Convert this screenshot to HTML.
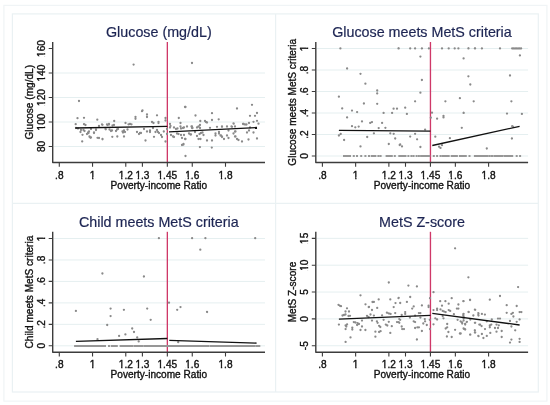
<!DOCTYPE html>
<html><head><meta charset="utf-8"><title>Poverty-income ratio RD plots</title>
<style>
html,body{margin:0;padding:0;background:#fff;}
body{width:550px;height:405px;overflow:hidden;}
svg{display:block;will-change:transform;}
text{font-family:"Liberation Sans", sans-serif;}
.l{font-size:10.1px;fill:#111111;stroke:#111111;stroke-width:0.35px;}
.t{font-size:14.3px;fill:#1d2553;stroke:#1d2553;stroke-width:0.2px;}
</style></head><body>
<svg width="550" height="405" viewBox="0 0 550 405">
<rect width="550" height="405" fill="#fff"/>
<rect x="3.9" y="5.4" width="543" height="395.7" fill="none" stroke="#f0f4f6" stroke-width="1.2"/>
<rect x="12.4" y="13.9" width="525.9" height="378.1" fill="none" stroke="#eaf1f3" stroke-width="1.2"/>
<path d="M275.6 13.9V392M12.4 203.3H538.3" stroke="#eaf1f3" stroke-width="1.2"/>
<line x1="53.7" y1="146.5" x2="265" y2="146.5" stroke="#e5eff0" stroke-width="1"/>
<line x1="53.7" y1="122" x2="265" y2="122" stroke="#e5eff0" stroke-width="1"/>
<line x1="53.7" y1="97.5" x2="265" y2="97.5" stroke="#e5eff0" stroke-width="1"/>
<line x1="53.7" y1="73" x2="265" y2="73" stroke="#e5eff0" stroke-width="1"/>
<line x1="167.35" y1="42" x2="167.35" y2="162.5" stroke="#cf3868" stroke-width="1.35"/>
<path d="M96.15 119.7a1.15 1.15 0 1 0 2.3 0a1.15 1.15 0 1 0 -2.3 0zM113.05 121a1.15 1.15 0 1 0 2.3 0a1.15 1.15 0 1 0 -2.3 0zM134.35 117a1.15 1.15 0 1 0 2.3 0a1.15 1.15 0 1 0 -2.3 0zM134.35 118.8a1.15 1.15 0 1 0 2.3 0a1.15 1.15 0 1 0 -2.3 0zM141.35 110.5a1.15 1.15 0 1 0 2.3 0a1.15 1.15 0 1 0 -2.3 0zM124.35 123a1.15 1.15 0 1 0 2.3 0a1.15 1.15 0 1 0 -2.3 0zM101.35 124.8a1.15 1.15 0 1 0 2.3 0a1.15 1.15 0 1 0 -2.3 0zM97.85 126a1.15 1.15 0 1 0 2.3 0a1.15 1.15 0 1 0 -2.3 0zM106.35 125a1.15 1.15 0 1 0 2.3 0a1.15 1.15 0 1 0 -2.3 0zM107.85 124.5a1.15 1.15 0 1 0 2.3 0a1.15 1.15 0 1 0 -2.3 0zM111.35 125.5a1.15 1.15 0 1 0 2.3 0a1.15 1.15 0 1 0 -2.3 0zM112.85 125a1.15 1.15 0 1 0 2.3 0a1.15 1.15 0 1 0 -2.3 0zM127.35 124.3a1.15 1.15 0 1 0 2.3 0a1.15 1.15 0 1 0 -2.3 0zM128.85 124a1.15 1.15 0 1 0 2.3 0a1.15 1.15 0 1 0 -2.3 0zM130.35 124.3a1.15 1.15 0 1 0 2.3 0a1.15 1.15 0 1 0 -2.3 0zM87.85 131.5a1.15 1.15 0 1 0 2.3 0a1.15 1.15 0 1 0 -2.3 0zM87.35 133a1.15 1.15 0 1 0 2.3 0a1.15 1.15 0 1 0 -2.3 0zM92.85 133a1.15 1.15 0 1 0 2.3 0a1.15 1.15 0 1 0 -2.3 0zM94.85 130a1.15 1.15 0 1 0 2.3 0a1.15 1.15 0 1 0 -2.3 0zM104.65 129.3a1.15 1.15 0 1 0 2.3 0a1.15 1.15 0 1 0 -2.3 0zM108.35 129.5a1.15 1.15 0 1 0 2.3 0a1.15 1.15 0 1 0 -2.3 0zM109.85 131a1.15 1.15 0 1 0 2.3 0a1.15 1.15 0 1 0 -2.3 0zM110.85 130.5a1.15 1.15 0 1 0 2.3 0a1.15 1.15 0 1 0 -2.3 0zM114.85 131a1.15 1.15 0 1 0 2.3 0a1.15 1.15 0 1 0 -2.3 0zM115.85 129.5a1.15 1.15 0 1 0 2.3 0a1.15 1.15 0 1 0 -2.3 0zM116.85 129a1.15 1.15 0 1 0 2.3 0a1.15 1.15 0 1 0 -2.3 0zM121.35 131.5a1.15 1.15 0 1 0 2.3 0a1.15 1.15 0 1 0 -2.3 0zM122.85 130.5a1.15 1.15 0 1 0 2.3 0a1.15 1.15 0 1 0 -2.3 0zM123.85 132a1.15 1.15 0 1 0 2.3 0a1.15 1.15 0 1 0 -2.3 0zM121.85 132.5a1.15 1.15 0 1 0 2.3 0a1.15 1.15 0 1 0 -2.3 0zM126.35 129.5a1.15 1.15 0 1 0 2.3 0a1.15 1.15 0 1 0 -2.3 0zM135.85 132a1.15 1.15 0 1 0 2.3 0a1.15 1.15 0 1 0 -2.3 0zM137.85 134a1.15 1.15 0 1 0 2.3 0a1.15 1.15 0 1 0 -2.3 0zM138.85 133a1.15 1.15 0 1 0 2.3 0a1.15 1.15 0 1 0 -2.3 0zM88.35 136.5a1.15 1.15 0 1 0 2.3 0a1.15 1.15 0 1 0 -2.3 0zM89.85 137.5a1.15 1.15 0 1 0 2.3 0a1.15 1.15 0 1 0 -2.3 0zM96.35 137.8a1.15 1.15 0 1 0 2.3 0a1.15 1.15 0 1 0 -2.3 0zM97.85 138a1.15 1.15 0 1 0 2.3 0a1.15 1.15 0 1 0 -2.3 0zM101.35 139.3a1.15 1.15 0 1 0 2.3 0a1.15 1.15 0 1 0 -2.3 0zM111.15 136.8a1.15 1.15 0 1 0 2.3 0a1.15 1.15 0 1 0 -2.3 0zM116.15 136.5a1.15 1.15 0 1 0 2.3 0a1.15 1.15 0 1 0 -2.3 0zM122.85 136.5a1.15 1.15 0 1 0 2.3 0a1.15 1.15 0 1 0 -2.3 0zM140.85 111.2a1.15 1.15 0 1 0 2.3 0a1.15 1.15 0 1 0 -2.3 0zM145.85 114.5a1.15 1.15 0 1 0 2.3 0a1.15 1.15 0 1 0 -2.3 0zM145.85 117a1.15 1.15 0 1 0 2.3 0a1.15 1.15 0 1 0 -2.3 0zM155.85 115.3a1.15 1.15 0 1 0 2.3 0a1.15 1.15 0 1 0 -2.3 0zM164.35 118a1.15 1.15 0 1 0 2.3 0a1.15 1.15 0 1 0 -2.3 0zM164.35 120.5a1.15 1.15 0 1 0 2.3 0a1.15 1.15 0 1 0 -2.3 0zM150.85 122a1.15 1.15 0 1 0 2.3 0a1.15 1.15 0 1 0 -2.3 0zM152.35 123a1.15 1.15 0 1 0 2.3 0a1.15 1.15 0 1 0 -2.3 0zM157.35 121.8a1.15 1.15 0 1 0 2.3 0a1.15 1.15 0 1 0 -2.3 0zM157.35 123a1.15 1.15 0 1 0 2.3 0a1.15 1.15 0 1 0 -2.3 0zM184.35 107a1.15 1.15 0 1 0 2.3 0a1.15 1.15 0 1 0 -2.3 0zM177.65 118a1.15 1.15 0 1 0 2.3 0a1.15 1.15 0 1 0 -2.3 0zM179.35 123a1.15 1.15 0 1 0 2.3 0a1.15 1.15 0 1 0 -2.3 0zM168.85 124a1.15 1.15 0 1 0 2.3 0a1.15 1.15 0 1 0 -2.3 0zM169.35 126a1.15 1.15 0 1 0 2.3 0a1.15 1.15 0 1 0 -2.3 0zM168.85 127.5a1.15 1.15 0 1 0 2.3 0a1.15 1.15 0 1 0 -2.3 0zM172.85 127.5a1.15 1.15 0 1 0 2.3 0a1.15 1.15 0 1 0 -2.3 0zM174.85 129a1.15 1.15 0 1 0 2.3 0a1.15 1.15 0 1 0 -2.3 0zM176.35 128.5a1.15 1.15 0 1 0 2.3 0a1.15 1.15 0 1 0 -2.3 0zM179.35 126.5a1.15 1.15 0 1 0 2.3 0a1.15 1.15 0 1 0 -2.3 0zM179.85 128.5a1.15 1.15 0 1 0 2.3 0a1.15 1.15 0 1 0 -2.3 0zM181.85 128a1.15 1.15 0 1 0 2.3 0a1.15 1.15 0 1 0 -2.3 0zM182.85 127.5a1.15 1.15 0 1 0 2.3 0a1.15 1.15 0 1 0 -2.3 0zM185.85 126.5a1.15 1.15 0 1 0 2.3 0a1.15 1.15 0 1 0 -2.3 0zM190.35 126.5a1.15 1.15 0 1 0 2.3 0a1.15 1.15 0 1 0 -2.3 0zM191.35 128a1.15 1.15 0 1 0 2.3 0a1.15 1.15 0 1 0 -2.3 0zM139.85 133a1.15 1.15 0 1 0 2.3 0a1.15 1.15 0 1 0 -2.3 0zM142.85 129a1.15 1.15 0 1 0 2.3 0a1.15 1.15 0 1 0 -2.3 0zM145.85 131.5a1.15 1.15 0 1 0 2.3 0a1.15 1.15 0 1 0 -2.3 0zM148.85 130.5a1.15 1.15 0 1 0 2.3 0a1.15 1.15 0 1 0 -2.3 0zM148.85 132a1.15 1.15 0 1 0 2.3 0a1.15 1.15 0 1 0 -2.3 0zM151.85 128a1.15 1.15 0 1 0 2.3 0a1.15 1.15 0 1 0 -2.3 0zM154.35 132a1.15 1.15 0 1 0 2.3 0a1.15 1.15 0 1 0 -2.3 0zM155.85 130a1.15 1.15 0 1 0 2.3 0a1.15 1.15 0 1 0 -2.3 0zM156.85 132a1.15 1.15 0 1 0 2.3 0a1.15 1.15 0 1 0 -2.3 0zM157.85 133a1.15 1.15 0 1 0 2.3 0a1.15 1.15 0 1 0 -2.3 0zM159.85 135a1.15 1.15 0 1 0 2.3 0a1.15 1.15 0 1 0 -2.3 0zM160.85 137a1.15 1.15 0 1 0 2.3 0a1.15 1.15 0 1 0 -2.3 0zM162.65 131.5a1.15 1.15 0 1 0 2.3 0a1.15 1.15 0 1 0 -2.3 0zM152.85 136.8a1.15 1.15 0 1 0 2.3 0a1.15 1.15 0 1 0 -2.3 0zM144.35 140.5a1.15 1.15 0 1 0 2.3 0a1.15 1.15 0 1 0 -2.3 0zM164.35 141.5a1.15 1.15 0 1 0 2.3 0a1.15 1.15 0 1 0 -2.3 0zM165.85 129a1.15 1.15 0 1 0 2.3 0a1.15 1.15 0 1 0 -2.3 0zM165.85 134a1.15 1.15 0 1 0 2.3 0a1.15 1.15 0 1 0 -2.3 0zM169.85 135a1.15 1.15 0 1 0 2.3 0a1.15 1.15 0 1 0 -2.3 0zM171.85 136.5a1.15 1.15 0 1 0 2.3 0a1.15 1.15 0 1 0 -2.3 0zM172.85 137a1.15 1.15 0 1 0 2.3 0a1.15 1.15 0 1 0 -2.3 0zM175.85 133.5a1.15 1.15 0 1 0 2.3 0a1.15 1.15 0 1 0 -2.3 0zM177.35 134a1.15 1.15 0 1 0 2.3 0a1.15 1.15 0 1 0 -2.3 0zM179.85 135a1.15 1.15 0 1 0 2.3 0a1.15 1.15 0 1 0 -2.3 0zM180.85 138a1.15 1.15 0 1 0 2.3 0a1.15 1.15 0 1 0 -2.3 0zM182.85 135a1.15 1.15 0 1 0 2.3 0a1.15 1.15 0 1 0 -2.3 0zM183.85 139a1.15 1.15 0 1 0 2.3 0a1.15 1.15 0 1 0 -2.3 0zM187.85 133.5a1.15 1.15 0 1 0 2.3 0a1.15 1.15 0 1 0 -2.3 0zM189.85 134.5a1.15 1.15 0 1 0 2.3 0a1.15 1.15 0 1 0 -2.3 0zM182.35 144a1.15 1.15 0 1 0 2.3 0a1.15 1.15 0 1 0 -2.3 0zM180.85 145a1.15 1.15 0 1 0 2.3 0a1.15 1.15 0 1 0 -2.3 0zM182.35 144.5a1.15 1.15 0 1 0 2.3 0a1.15 1.15 0 1 0 -2.3 0zM184.35 156a1.15 1.15 0 1 0 2.3 0a1.15 1.15 0 1 0 -2.3 0zM184.35 139a1.15 1.15 0 1 0 2.3 0a1.15 1.15 0 1 0 -2.3 0zM194.35 115.5a1.15 1.15 0 1 0 2.3 0a1.15 1.15 0 1 0 -2.3 0zM210.85 113.2a1.15 1.15 0 1 0 2.3 0a1.15 1.15 0 1 0 -2.3 0zM235.85 108.5a1.15 1.15 0 1 0 2.3 0a1.15 1.15 0 1 0 -2.3 0zM199.15 121a1.15 1.15 0 1 0 2.3 0a1.15 1.15 0 1 0 -2.3 0zM203.85 121a1.15 1.15 0 1 0 2.3 0a1.15 1.15 0 1 0 -2.3 0zM204.85 122a1.15 1.15 0 1 0 2.3 0a1.15 1.15 0 1 0 -2.3 0zM205.85 122.5a1.15 1.15 0 1 0 2.3 0a1.15 1.15 0 1 0 -2.3 0zM210.85 120a1.15 1.15 0 1 0 2.3 0a1.15 1.15 0 1 0 -2.3 0zM217.55 119.3a1.15 1.15 0 1 0 2.3 0a1.15 1.15 0 1 0 -2.3 0zM232.35 123.5a1.15 1.15 0 1 0 2.3 0a1.15 1.15 0 1 0 -2.3 0zM241.85 124a1.15 1.15 0 1 0 2.3 0a1.15 1.15 0 1 0 -2.3 0zM190.85 126.5a1.15 1.15 0 1 0 2.3 0a1.15 1.15 0 1 0 -2.3 0zM190.85 128a1.15 1.15 0 1 0 2.3 0a1.15 1.15 0 1 0 -2.3 0zM195.85 127.5a1.15 1.15 0 1 0 2.3 0a1.15 1.15 0 1 0 -2.3 0zM197.35 126.5a1.15 1.15 0 1 0 2.3 0a1.15 1.15 0 1 0 -2.3 0zM198.85 125a1.15 1.15 0 1 0 2.3 0a1.15 1.15 0 1 0 -2.3 0zM198.85 128a1.15 1.15 0 1 0 2.3 0a1.15 1.15 0 1 0 -2.3 0zM208.85 127.8a1.15 1.15 0 1 0 2.3 0a1.15 1.15 0 1 0 -2.3 0zM215.85 126.8a1.15 1.15 0 1 0 2.3 0a1.15 1.15 0 1 0 -2.3 0zM220.85 126.5a1.15 1.15 0 1 0 2.3 0a1.15 1.15 0 1 0 -2.3 0zM225.85 126.5a1.15 1.15 0 1 0 2.3 0a1.15 1.15 0 1 0 -2.3 0zM230.35 126.5a1.15 1.15 0 1 0 2.3 0a1.15 1.15 0 1 0 -2.3 0zM233.85 126.5a1.15 1.15 0 1 0 2.3 0a1.15 1.15 0 1 0 -2.3 0zM189.35 134.5a1.15 1.15 0 1 0 2.3 0a1.15 1.15 0 1 0 -2.3 0zM193.85 132a1.15 1.15 0 1 0 2.3 0a1.15 1.15 0 1 0 -2.3 0zM195.85 136a1.15 1.15 0 1 0 2.3 0a1.15 1.15 0 1 0 -2.3 0zM198.35 134a1.15 1.15 0 1 0 2.3 0a1.15 1.15 0 1 0 -2.3 0zM199.85 133a1.15 1.15 0 1 0 2.3 0a1.15 1.15 0 1 0 -2.3 0zM201.35 132.5a1.15 1.15 0 1 0 2.3 0a1.15 1.15 0 1 0 -2.3 0zM202.35 135a1.15 1.15 0 1 0 2.3 0a1.15 1.15 0 1 0 -2.3 0zM197.35 139a1.15 1.15 0 1 0 2.3 0a1.15 1.15 0 1 0 -2.3 0zM199.35 139a1.15 1.15 0 1 0 2.3 0a1.15 1.15 0 1 0 -2.3 0zM205.85 140.5a1.15 1.15 0 1 0 2.3 0a1.15 1.15 0 1 0 -2.3 0zM210.85 140.5a1.15 1.15 0 1 0 2.3 0a1.15 1.15 0 1 0 -2.3 0zM214.35 133.5a1.15 1.15 0 1 0 2.3 0a1.15 1.15 0 1 0 -2.3 0zM214.35 135.5a1.15 1.15 0 1 0 2.3 0a1.15 1.15 0 1 0 -2.3 0zM217.85 132a1.15 1.15 0 1 0 2.3 0a1.15 1.15 0 1 0 -2.3 0zM217.85 133.5a1.15 1.15 0 1 0 2.3 0a1.15 1.15 0 1 0 -2.3 0zM219.35 135.5a1.15 1.15 0 1 0 2.3 0a1.15 1.15 0 1 0 -2.3 0zM220.85 136.5a1.15 1.15 0 1 0 2.3 0a1.15 1.15 0 1 0 -2.3 0zM222.85 139a1.15 1.15 0 1 0 2.3 0a1.15 1.15 0 1 0 -2.3 0zM225.85 135.5a1.15 1.15 0 1 0 2.3 0a1.15 1.15 0 1 0 -2.3 0zM227.35 138a1.15 1.15 0 1 0 2.3 0a1.15 1.15 0 1 0 -2.3 0zM227.35 130.5a1.15 1.15 0 1 0 2.3 0a1.15 1.15 0 1 0 -2.3 0zM232.35 133.5a1.15 1.15 0 1 0 2.3 0a1.15 1.15 0 1 0 -2.3 0zM234.35 131.5a1.15 1.15 0 1 0 2.3 0a1.15 1.15 0 1 0 -2.3 0zM234.35 136.5a1.15 1.15 0 1 0 2.3 0a1.15 1.15 0 1 0 -2.3 0zM235.85 139a1.15 1.15 0 1 0 2.3 0a1.15 1.15 0 1 0 -2.3 0zM237.35 140a1.15 1.15 0 1 0 2.3 0a1.15 1.15 0 1 0 -2.3 0zM240.85 141.5a1.15 1.15 0 1 0 2.3 0a1.15 1.15 0 1 0 -2.3 0zM250.85 104.8a1.15 1.15 0 1 0 2.3 0a1.15 1.15 0 1 0 -2.3 0zM248.85 115.8a1.15 1.15 0 1 0 2.3 0a1.15 1.15 0 1 0 -2.3 0zM253.85 115.8a1.15 1.15 0 1 0 2.3 0a1.15 1.15 0 1 0 -2.3 0zM255.85 113a1.15 1.15 0 1 0 2.3 0a1.15 1.15 0 1 0 -2.3 0zM252.35 121.8a1.15 1.15 0 1 0 2.3 0a1.15 1.15 0 1 0 -2.3 0zM255.85 120.8a1.15 1.15 0 1 0 2.3 0a1.15 1.15 0 1 0 -2.3 0zM257.35 123.7a1.15 1.15 0 1 0 2.3 0a1.15 1.15 0 1 0 -2.3 0zM232.55 123.7a1.15 1.15 0 1 0 2.3 0a1.15 1.15 0 1 0 -2.3 0zM242.35 124a1.15 1.15 0 1 0 2.3 0a1.15 1.15 0 1 0 -2.3 0zM243.85 124.5a1.15 1.15 0 1 0 2.3 0a1.15 1.15 0 1 0 -2.3 0zM245.35 124.5a1.15 1.15 0 1 0 2.3 0a1.15 1.15 0 1 0 -2.3 0zM247.85 123a1.15 1.15 0 1 0 2.3 0a1.15 1.15 0 1 0 -2.3 0zM220.85 126.8a1.15 1.15 0 1 0 2.3 0a1.15 1.15 0 1 0 -2.3 0zM230.85 126.8a1.15 1.15 0 1 0 2.3 0a1.15 1.15 0 1 0 -2.3 0zM248.85 127.5a1.15 1.15 0 1 0 2.3 0a1.15 1.15 0 1 0 -2.3 0zM227.35 130.5a1.15 1.15 0 1 0 2.3 0a1.15 1.15 0 1 0 -2.3 0zM233.85 131.5a1.15 1.15 0 1 0 2.3 0a1.15 1.15 0 1 0 -2.3 0zM232.35 133.5a1.15 1.15 0 1 0 2.3 0a1.15 1.15 0 1 0 -2.3 0zM245.85 132.5a1.15 1.15 0 1 0 2.3 0a1.15 1.15 0 1 0 -2.3 0zM247.85 130.5a1.15 1.15 0 1 0 2.3 0a1.15 1.15 0 1 0 -2.3 0zM252.35 132.5a1.15 1.15 0 1 0 2.3 0a1.15 1.15 0 1 0 -2.3 0zM219.85 135.5a1.15 1.15 0 1 0 2.3 0a1.15 1.15 0 1 0 -2.3 0zM220.85 137a1.15 1.15 0 1 0 2.3 0a1.15 1.15 0 1 0 -2.3 0zM222.85 139a1.15 1.15 0 1 0 2.3 0a1.15 1.15 0 1 0 -2.3 0zM225.85 135.5a1.15 1.15 0 1 0 2.3 0a1.15 1.15 0 1 0 -2.3 0zM233.85 136.5a1.15 1.15 0 1 0 2.3 0a1.15 1.15 0 1 0 -2.3 0zM247.35 139.5a1.15 1.15 0 1 0 2.3 0a1.15 1.15 0 1 0 -2.3 0zM255.85 138.5a1.15 1.15 0 1 0 2.3 0a1.15 1.15 0 1 0 -2.3 0zM77.85 101a1.15 1.15 0 1 0 2.3 0a1.15 1.15 0 1 0 -2.3 0zM76.35 118.2a1.15 1.15 0 1 0 2.3 0a1.15 1.15 0 1 0 -2.3 0zM82.85 117.8a1.15 1.15 0 1 0 2.3 0a1.15 1.15 0 1 0 -2.3 0zM74.55 124.2a1.15 1.15 0 1 0 2.3 0a1.15 1.15 0 1 0 -2.3 0zM82.85 124.2a1.15 1.15 0 1 0 2.3 0a1.15 1.15 0 1 0 -2.3 0zM84.35 125a1.15 1.15 0 1 0 2.3 0a1.15 1.15 0 1 0 -2.3 0zM100.85 124.5a1.15 1.15 0 1 0 2.3 0a1.15 1.15 0 1 0 -2.3 0zM105.85 124.5a1.15 1.15 0 1 0 2.3 0a1.15 1.15 0 1 0 -2.3 0zM107.85 124a1.15 1.15 0 1 0 2.3 0a1.15 1.15 0 1 0 -2.3 0zM97.85 126a1.15 1.15 0 1 0 2.3 0a1.15 1.15 0 1 0 -2.3 0zM74.85 128a1.15 1.15 0 1 0 2.3 0a1.15 1.15 0 1 0 -2.3 0zM76.85 128.5a1.15 1.15 0 1 0 2.3 0a1.15 1.15 0 1 0 -2.3 0zM79.85 130a1.15 1.15 0 1 0 2.3 0a1.15 1.15 0 1 0 -2.3 0zM79.35 132a1.15 1.15 0 1 0 2.3 0a1.15 1.15 0 1 0 -2.3 0zM82.35 130a1.15 1.15 0 1 0 2.3 0a1.15 1.15 0 1 0 -2.3 0zM83.35 131a1.15 1.15 0 1 0 2.3 0a1.15 1.15 0 1 0 -2.3 0zM86.85 132.5a1.15 1.15 0 1 0 2.3 0a1.15 1.15 0 1 0 -2.3 0zM85.85 134a1.15 1.15 0 1 0 2.3 0a1.15 1.15 0 1 0 -2.3 0zM89.85 129a1.15 1.15 0 1 0 2.3 0a1.15 1.15 0 1 0 -2.3 0zM81.35 134.8a1.15 1.15 0 1 0 2.3 0a1.15 1.15 0 1 0 -2.3 0zM88.35 136.8a1.15 1.15 0 1 0 2.3 0a1.15 1.15 0 1 0 -2.3 0zM89.35 137.8a1.15 1.15 0 1 0 2.3 0a1.15 1.15 0 1 0 -2.3 0zM92.85 132.5a1.15 1.15 0 1 0 2.3 0a1.15 1.15 0 1 0 -2.3 0zM94.85 129.5a1.15 1.15 0 1 0 2.3 0a1.15 1.15 0 1 0 -2.3 0zM96.35 137.8a1.15 1.15 0 1 0 2.3 0a1.15 1.15 0 1 0 -2.3 0zM101.35 139a1.15 1.15 0 1 0 2.3 0a1.15 1.15 0 1 0 -2.3 0zM104.35 129a1.15 1.15 0 1 0 2.3 0a1.15 1.15 0 1 0 -2.3 0zM132.45 64.6a1.15 1.15 0 1 0 2.3 0a1.15 1.15 0 1 0 -2.3 0zM190.85 63a1.15 1.15 0 1 0 2.3 0a1.15 1.15 0 1 0 -2.3 0zM183.85 107a1.15 1.15 0 1 0 2.3 0a1.15 1.15 0 1 0 -2.3 0zM198.75 147.1a1.15 1.15 0 1 0 2.3 0a1.15 1.15 0 1 0 -2.3 0zM210.65 147.6a1.15 1.15 0 1 0 2.3 0a1.15 1.15 0 1 0 -2.3 0zM81.05 141.4a1.15 1.15 0 1 0 2.3 0a1.15 1.15 0 1 0 -2.3 0z" fill="#8a8a8a"/>
<path d="M75.31 128.65L167.36 126.95L167.34 125.65L75.29 127.35z" fill="#111111"/>
<path d="M169.03 132.45L257.03 128.15L256.97 126.85L168.97 131.15z" fill="#111111"/>
<path d="M52.7 42V162.5H265" fill="none" stroke="#3c3c3c" stroke-width="1.4" stroke-linejoin="round"/>
<path d="M48.7 146.5H52.7M48.7 122H52.7M48.7 97.5H52.7M48.7 73H52.7M48.7 48.5H52.7M59.3 162.5V166.7M92.54 162.5V166.7M125.78 162.5V166.7M142.4 162.5V166.7M167.33 162.5V166.7M192.26 162.5V166.7M225.5 162.5V166.7" stroke="#3c3c3c" stroke-width="1.1" fill="none"/>
<g transform="translate(44.9 146.5) rotate(-90)"><text x="-5.62" y="0" class="l">80</text></g>
<g transform="translate(44.9 122) rotate(-90)"><text x="-8.43" y="0" class="l">100</text><rect x="-8.23" y="-1.48" width="2.1" height="3.55" fill="#fff"/><rect x="-4.65" y="-1.48" width="1.78" height="3.55" fill="#fff"/></g>
<g transform="translate(44.9 97.5) rotate(-90)"><text x="-8.43" y="0" class="l">120</text><rect x="-8.23" y="-1.48" width="2.1" height="3.55" fill="#fff"/><rect x="-4.65" y="-1.48" width="1.78" height="3.55" fill="#fff"/></g>
<g transform="translate(44.9 73) rotate(-90)"><text x="-8.43" y="0" class="l">140</text><rect x="-8.23" y="-1.48" width="2.1" height="3.55" fill="#fff"/><rect x="-4.65" y="-1.48" width="1.78" height="3.55" fill="#fff"/></g>
<g transform="translate(44.9 48.5) rotate(-90)"><text x="-8.43" y="0" class="l">160</text><rect x="-8.23" y="-1.48" width="2.1" height="3.55" fill="#fff"/><rect x="-4.65" y="-1.48" width="1.78" height="3.55" fill="#fff"/></g>
<g transform="translate(59.3 178.5)"><text x="-4.21" y="0" class="l">.8</text></g>
<g transform="translate(92.54 178.5)"><text x="-2.81" y="0" class="l">1</text><rect x="-2.61" y="-1.48" width="2.1" height="3.55" fill="#fff"/><rect x="0.96" y="-1.48" width="1.78" height="3.55" fill="#fff"/></g>
<g transform="translate(125.78 178.5)"><text x="-7.02" y="0" class="l">1.2</text><rect x="-6.82" y="-1.48" width="2.1" height="3.55" fill="#fff"/><rect x="-3.25" y="-1.48" width="1.78" height="3.55" fill="#fff"/></g>
<g transform="translate(142.4 178.5)"><text x="-7.02" y="0" class="l">1.3</text><rect x="-6.82" y="-1.48" width="2.1" height="3.55" fill="#fff"/><rect x="-3.25" y="-1.48" width="1.78" height="3.55" fill="#fff"/></g>
<g transform="translate(167.33 178.5)"><text x="-9.83" y="0" class="l">1.45</text><rect x="-9.63" y="-1.48" width="2.1" height="3.55" fill="#fff"/><rect x="-6.06" y="-1.48" width="1.78" height="3.55" fill="#fff"/></g>
<g transform="translate(192.26 178.5)"><text x="-7.02" y="0" class="l">1.6</text><rect x="-6.82" y="-1.48" width="2.1" height="3.55" fill="#fff"/><rect x="-3.25" y="-1.48" width="1.78" height="3.55" fill="#fff"/></g>
<g transform="translate(225.5 178.5)"><text x="-7.02" y="0" class="l">1.8</text><rect x="-6.82" y="-1.48" width="2.1" height="3.55" fill="#fff"/><rect x="-3.25" y="-1.48" width="1.78" height="3.55" fill="#fff"/></g>
<text x="158.85" y="188.6" text-anchor="middle" class="l">Poverty-income Ratio</text>
<text transform="translate(32.8 102.25) rotate(-90)" text-anchor="middle" class="l">Glucose (mg/dL)</text>
<text x="158.85" y="36.7" text-anchor="middle" class="t">Glucose (mg/dL)</text>
<line x1="316.8" y1="156" x2="528.1" y2="156" stroke="#e5eff0" stroke-width="1"/>
<line x1="316.8" y1="134.5" x2="528.1" y2="134.5" stroke="#e5eff0" stroke-width="1"/>
<line x1="316.8" y1="113" x2="528.1" y2="113" stroke="#e5eff0" stroke-width="1"/>
<line x1="316.8" y1="91.5" x2="528.1" y2="91.5" stroke="#e5eff0" stroke-width="1"/>
<line x1="316.8" y1="70" x2="528.1" y2="70" stroke="#e5eff0" stroke-width="1"/>
<line x1="316.8" y1="48.5" x2="528.1" y2="48.5" stroke="#e5eff0" stroke-width="1"/>
<line x1="430.45" y1="42" x2="430.45" y2="162.5" stroke="#cf3868" stroke-width="1.35"/>
<path d="M339.25 48.4a1.15 1.15 0 1 0 2.3 0a1.15 1.15 0 1 0 -2.3 0zM397.35 48.4a1.15 1.15 0 1 0 2.3 0a1.15 1.15 0 1 0 -2.3 0zM345.95 68.5a1.15 1.15 0 1 0 2.3 0a1.15 1.15 0 1 0 -2.3 0zM359.35 73.8a1.15 1.15 0 1 0 2.3 0a1.15 1.15 0 1 0 -2.3 0zM364.25 83.7a1.15 1.15 0 1 0 2.3 0a1.15 1.15 0 1 0 -2.3 0zM376.05 90.5a1.15 1.15 0 1 0 2.3 0a1.15 1.15 0 1 0 -2.3 0zM376.05 93.4a1.15 1.15 0 1 0 2.3 0a1.15 1.15 0 1 0 -2.3 0zM337.75 96.7a1.15 1.15 0 1 0 2.3 0a1.15 1.15 0 1 0 -2.3 0zM362.75 103.5a1.15 1.15 0 1 0 2.3 0a1.15 1.15 0 1 0 -2.3 0zM376.05 103.8a1.15 1.15 0 1 0 2.3 0a1.15 1.15 0 1 0 -2.3 0zM341.05 108.4a1.15 1.15 0 1 0 2.3 0a1.15 1.15 0 1 0 -2.3 0zM350.85 110.6a1.15 1.15 0 1 0 2.3 0a1.15 1.15 0 1 0 -2.3 0zM355.95 112.1a1.15 1.15 0 1 0 2.3 0a1.15 1.15 0 1 0 -2.3 0zM382.45 112.9a1.15 1.15 0 1 0 2.3 0a1.15 1.15 0 1 0 -2.3 0zM390.95 112.9a1.15 1.15 0 1 0 2.3 0a1.15 1.15 0 1 0 -2.3 0zM392.45 108.7a1.15 1.15 0 1 0 2.3 0a1.15 1.15 0 1 0 -2.3 0zM395.85 108.7a1.15 1.15 0 1 0 2.3 0a1.15 1.15 0 1 0 -2.3 0zM345.95 117.4a1.15 1.15 0 1 0 2.3 0a1.15 1.15 0 1 0 -2.3 0zM360.85 121.4a1.15 1.15 0 1 0 2.3 0a1.15 1.15 0 1 0 -2.3 0zM369.05 122.9a1.15 1.15 0 1 0 2.3 0a1.15 1.15 0 1 0 -2.3 0zM370.85 122.1a1.15 1.15 0 1 0 2.3 0a1.15 1.15 0 1 0 -2.3 0zM380.95 122.9a1.15 1.15 0 1 0 2.3 0a1.15 1.15 0 1 0 -2.3 0zM350.85 126.2a1.15 1.15 0 1 0 2.3 0a1.15 1.15 0 1 0 -2.3 0zM354.15 127.3a1.15 1.15 0 1 0 2.3 0a1.15 1.15 0 1 0 -2.3 0zM357.55 126.6a1.15 1.15 0 1 0 2.3 0a1.15 1.15 0 1 0 -2.3 0zM377.55 128.1a1.15 1.15 0 1 0 2.3 0a1.15 1.15 0 1 0 -2.3 0zM384.25 127.8a1.15 1.15 0 1 0 2.3 0a1.15 1.15 0 1 0 -2.3 0zM337.75 135.5a1.15 1.15 0 1 0 2.3 0a1.15 1.15 0 1 0 -2.3 0zM339.55 134a1.15 1.15 0 1 0 2.3 0a1.15 1.15 0 1 0 -2.3 0zM342.95 140a1.15 1.15 0 1 0 2.3 0a1.15 1.15 0 1 0 -2.3 0zM366.05 137a1.15 1.15 0 1 0 2.3 0a1.15 1.15 0 1 0 -2.3 0zM372.75 133.3a1.15 1.15 0 1 0 2.3 0a1.15 1.15 0 1 0 -2.3 0zM389.15 133.3a1.15 1.15 0 1 0 2.3 0a1.15 1.15 0 1 0 -2.3 0zM392.55 133.8a1.15 1.15 0 1 0 2.3 0a1.15 1.15 0 1 0 -2.3 0zM394.05 138.5a1.15 1.15 0 1 0 2.3 0a1.15 1.15 0 1 0 -2.3 0zM359.35 146.4a1.15 1.15 0 1 0 2.3 0a1.15 1.15 0 1 0 -2.3 0zM387.65 144a1.15 1.15 0 1 0 2.3 0a1.15 1.15 0 1 0 -2.3 0zM398.55 145a1.15 1.15 0 1 0 2.3 0a1.15 1.15 0 1 0 -2.3 0zM397.55 48.4a1.15 1.15 0 1 0 2.3 0a1.15 1.15 0 1 0 -2.3 0zM409.05 48.4a1.15 1.15 0 1 0 2.3 0a1.15 1.15 0 1 0 -2.3 0zM413.95 48.4a1.15 1.15 0 1 0 2.3 0a1.15 1.15 0 1 0 -2.3 0zM420.75 48.4a1.15 1.15 0 1 0 2.3 0a1.15 1.15 0 1 0 -2.3 0zM427.75 48.4a1.15 1.15 0 1 0 2.3 0a1.15 1.15 0 1 0 -2.3 0zM440.85 48.4a1.15 1.15 0 1 0 2.3 0a1.15 1.15 0 1 0 -2.3 0zM447.55 48.4a1.15 1.15 0 1 0 2.3 0a1.15 1.15 0 1 0 -2.3 0zM453.55 48.4a1.15 1.15 0 1 0 2.3 0a1.15 1.15 0 1 0 -2.3 0zM457.25 48.4a1.15 1.15 0 1 0 2.3 0a1.15 1.15 0 1 0 -2.3 0zM467.25 48.4a1.15 1.15 0 1 0 2.3 0a1.15 1.15 0 1 0 -2.3 0zM473.95 48.4a1.15 1.15 0 1 0 2.3 0a1.15 1.15 0 1 0 -2.3 0zM419.25 56.6a1.15 1.15 0 1 0 2.3 0a1.15 1.15 0 1 0 -2.3 0zM462.45 58.4a1.15 1.15 0 1 0 2.3 0a1.15 1.15 0 1 0 -2.3 0zM420.75 80a1.15 1.15 0 1 0 2.3 0a1.15 1.15 0 1 0 -2.3 0zM467.25 76.3a1.15 1.15 0 1 0 2.3 0a1.15 1.15 0 1 0 -2.3 0zM469.15 84.5a1.15 1.15 0 1 0 2.3 0a1.15 1.15 0 1 0 -2.3 0zM419.25 92.7a1.15 1.15 0 1 0 2.3 0a1.15 1.15 0 1 0 -2.3 0zM458.75 98.2a1.15 1.15 0 1 0 2.3 0a1.15 1.15 0 1 0 -2.3 0zM413.95 101.3a1.15 1.15 0 1 0 2.3 0a1.15 1.15 0 1 0 -2.3 0zM444.25 101.3a1.15 1.15 0 1 0 2.3 0a1.15 1.15 0 1 0 -2.3 0zM472.55 101.3a1.15 1.15 0 1 0 2.3 0a1.15 1.15 0 1 0 -2.3 0zM404.05 107.7a1.15 1.15 0 1 0 2.3 0a1.15 1.15 0 1 0 -2.3 0zM405.75 113.9a1.15 1.15 0 1 0 2.3 0a1.15 1.15 0 1 0 -2.3 0zM430.85 112.7a1.15 1.15 0 1 0 2.3 0a1.15 1.15 0 1 0 -2.3 0zM429.65 117.7a1.15 1.15 0 1 0 2.3 0a1.15 1.15 0 1 0 -2.3 0zM435.95 118.7a1.15 1.15 0 1 0 2.3 0a1.15 1.15 0 1 0 -2.3 0zM442.35 115.9a1.15 1.15 0 1 0 2.3 0a1.15 1.15 0 1 0 -2.3 0zM442.35 117.4a1.15 1.15 0 1 0 2.3 0a1.15 1.15 0 1 0 -2.3 0zM462.45 112.9a1.15 1.15 0 1 0 2.3 0a1.15 1.15 0 1 0 -2.3 0zM460.65 127.8a1.15 1.15 0 1 0 2.3 0a1.15 1.15 0 1 0 -2.3 0zM423.95 129.6a1.15 1.15 0 1 0 2.3 0a1.15 1.15 0 1 0 -2.3 0zM413.95 133.8a1.15 1.15 0 1 0 2.3 0a1.15 1.15 0 1 0 -2.3 0zM409.05 136.6a1.15 1.15 0 1 0 2.3 0a1.15 1.15 0 1 0 -2.3 0zM415.95 139.3a1.15 1.15 0 1 0 2.3 0a1.15 1.15 0 1 0 -2.3 0zM434.15 136.7a1.15 1.15 0 1 0 2.3 0a1.15 1.15 0 1 0 -2.3 0zM448.75 138.2a1.15 1.15 0 1 0 2.3 0a1.15 1.15 0 1 0 -2.3 0zM399.05 144.5a1.15 1.15 0 1 0 2.3 0a1.15 1.15 0 1 0 -2.3 0zM400.85 146.4a1.15 1.15 0 1 0 2.3 0a1.15 1.15 0 1 0 -2.3 0zM419.25 147a1.15 1.15 0 1 0 2.3 0a1.15 1.15 0 1 0 -2.3 0zM437.85 146.7a1.15 1.15 0 1 0 2.3 0a1.15 1.15 0 1 0 -2.3 0zM439.35 147.9a1.15 1.15 0 1 0 2.3 0a1.15 1.15 0 1 0 -2.3 0zM440.85 145.2a1.15 1.15 0 1 0 2.3 0a1.15 1.15 0 1 0 -2.3 0zM467.35 48.4a1.15 1.15 0 1 0 2.3 0a1.15 1.15 0 1 0 -2.3 0zM473.75 48.4a1.15 1.15 0 1 0 2.3 0a1.15 1.15 0 1 0 -2.3 0zM480.75 48.4a1.15 1.15 0 1 0 2.3 0a1.15 1.15 0 1 0 -2.3 0zM498.85 48.4a1.15 1.15 0 1 0 2.3 0a1.15 1.15 0 1 0 -2.3 0zM518.75 55.4a1.15 1.15 0 1 0 2.3 0a1.15 1.15 0 1 0 -2.3 0zM508.85 75.5a1.15 1.15 0 1 0 2.3 0a1.15 1.15 0 1 0 -2.3 0zM510.25 101.3a1.15 1.15 0 1 0 2.3 0a1.15 1.15 0 1 0 -2.3 0zM462.55 112.9a1.15 1.15 0 1 0 2.3 0a1.15 1.15 0 1 0 -2.3 0zM505.85 113.6a1.15 1.15 0 1 0 2.3 0a1.15 1.15 0 1 0 -2.3 0zM520.75 113.9a1.15 1.15 0 1 0 2.3 0a1.15 1.15 0 1 0 -2.3 0zM511.05 126.2a1.15 1.15 0 1 0 2.3 0a1.15 1.15 0 1 0 -2.3 0zM511.85 126.6a1.15 1.15 0 1 0 2.3 0a1.15 1.15 0 1 0 -2.3 0zM510.75 138.5a1.15 1.15 0 1 0 2.3 0a1.15 1.15 0 1 0 -2.3 0zM485.65 148.5a1.15 1.15 0 1 0 2.3 0a1.15 1.15 0 1 0 -2.3 0zM511.05 48.4a1.15 1.15 0 1 0 2.3 0a1.15 1.15 0 1 0 -2.3 0zM512.53 48.4a1.15 1.15 0 1 0 2.3 0a1.15 1.15 0 1 0 -2.3 0zM514.02 48.4a1.15 1.15 0 1 0 2.3 0a1.15 1.15 0 1 0 -2.3 0zM515.5 48.4a1.15 1.15 0 1 0 2.3 0a1.15 1.15 0 1 0 -2.3 0zM516.98 48.4a1.15 1.15 0 1 0 2.3 0a1.15 1.15 0 1 0 -2.3 0zM518.47 48.4a1.15 1.15 0 1 0 2.3 0a1.15 1.15 0 1 0 -2.3 0zM519.95 48.4a1.15 1.15 0 1 0 2.3 0a1.15 1.15 0 1 0 -2.3 0z" fill="#8a8a8a"/>
<path d="M343 155h2v2h-2zM344.5 155h2v2h-2zM346 155h2v2h-2zM347.5 155h2v2h-2zM349 155h2v2h-2zM352.8 155h2v2h-2zM356 155h2v2h-2zM360.2 155h2v2h-2zM364.4 155h2v2h-2zM368 155h2v2h-2zM370.7 155h2v2h-2zM372.55 155h2v2h-2zM374.4 155h2v2h-2zM377.4 155h2v2h-2zM379.6 155h2v2h-2zM385.6 155h2v2h-2zM387.33 155h2v2h-2zM389.07 155h2v2h-2zM390.8 155h2v2h-2zM393.8 155h2v2h-2zM398.3 155h2v2h-2zM399.85 155h2v2h-2zM401.4 155h2v2h-2zM402.95 155h2v2h-2zM404.5 155h2v2h-2zM407.4 155h2v2h-2zM410.4 155h2v2h-2zM412.6 155h2v2h-2zM415.6 155h2v2h-2zM417.9 155h2v2h-2zM420.1 155h2v2h-2zM421.74 155h2v2h-2zM423.38 155h2v2h-2zM425.02 155h2v2h-2zM426.66 155h2v2h-2zM428.3 155h2v2h-2zM432.8 155h2v2h-2zM436.1 155h2v2h-2zM439.5 155h2v2h-2zM441.7 155h2v2h-2zM443.2 155h2v2h-2zM444.7 155h2v2h-2zM446.2 155h2v2h-2zM447.7 155h2v2h-2zM450.7 155h2v2h-2zM452.43 155h2v2h-2zM454.17 155h2v2h-2zM455.9 155h2v2h-2zM458.9 155h2v2h-2zM460.38 155h2v2h-2zM461.85 155h2v2h-2zM463.32 155h2v2h-2zM464.8 155h2v2h-2zM468.5 155h2v2h-2zM473.9 155h2v2h-2zM475.49 155h2v2h-2zM477.07 155h2v2h-2zM478.66 155h2v2h-2zM480.25 155h2v2h-2zM481.84 155h2v2h-2zM483.43 155h2v2h-2zM485.01 155h2v2h-2zM486.6 155h2v2h-2zM488.8 155h2v2h-2zM491 155h2v2h-2zM493.3 155h2v2h-2zM494.94 155h2v2h-2zM496.58 155h2v2h-2zM498.22 155h2v2h-2zM499.86 155h2v2h-2zM501.5 155h2v2h-2zM503.7 155h2v2h-2zM505.2 155h2v2h-2zM506.7 155h2v2h-2zM508.2 155h2v2h-2zM509.7 155h2v2h-2zM511.2 155h2v2h-2zM515.7 155h2v2h-2zM519.1 155h2v2h-2z" fill="#979797"/>
<path d="M338.89 130.95L430.44 131.75L430.46 130.45L338.91 129.65z" fill="#111111"/>
<path d="M432.44 146.13L519.74 126.93L519.46 125.67L432.16 144.87z" fill="#111111"/>
<path d="M315.8 42V162.5H528.1" fill="none" stroke="#3c3c3c" stroke-width="1.4" stroke-linejoin="round"/>
<path d="M311.8 156H315.8M311.8 134.5H315.8M311.8 113H315.8M311.8 91.5H315.8M311.8 70H315.8M311.8 48.5H315.8M322.4 162.5V166.7M355.64 162.5V166.7M388.88 162.5V166.7M405.5 162.5V166.7M430.43 162.5V166.7M455.36 162.5V166.7M488.6 162.5V166.7" stroke="#3c3c3c" stroke-width="1.1" fill="none"/>
<g transform="translate(308 156) rotate(-90)"><text x="-2.81" y="0" class="l">0</text></g>
<g transform="translate(308 134.5) rotate(-90)"><text x="-4.21" y="0" class="l">.2</text></g>
<g transform="translate(308 113) rotate(-90)"><text x="-4.21" y="0" class="l">.4</text></g>
<g transform="translate(308 91.5) rotate(-90)"><text x="-4.21" y="0" class="l">.6</text></g>
<g transform="translate(308 70) rotate(-90)"><text x="-4.21" y="0" class="l">.8</text></g>
<g transform="translate(308 48.5) rotate(-90)"><text x="-2.81" y="0" class="l">1</text><rect x="-2.61" y="-1.48" width="2.1" height="3.55" fill="#fff"/><rect x="0.96" y="-1.48" width="1.78" height="3.55" fill="#fff"/></g>
<g transform="translate(322.4 178.5)"><text x="-4.21" y="0" class="l">.8</text></g>
<g transform="translate(355.64 178.5)"><text x="-2.81" y="0" class="l">1</text><rect x="-2.61" y="-1.48" width="2.1" height="3.55" fill="#fff"/><rect x="0.96" y="-1.48" width="1.78" height="3.55" fill="#fff"/></g>
<g transform="translate(388.88 178.5)"><text x="-7.02" y="0" class="l">1.2</text><rect x="-6.82" y="-1.48" width="2.1" height="3.55" fill="#fff"/><rect x="-3.25" y="-1.48" width="1.78" height="3.55" fill="#fff"/></g>
<g transform="translate(405.5 178.5)"><text x="-7.02" y="0" class="l">1.3</text><rect x="-6.82" y="-1.48" width="2.1" height="3.55" fill="#fff"/><rect x="-3.25" y="-1.48" width="1.78" height="3.55" fill="#fff"/></g>
<g transform="translate(430.43 178.5)"><text x="-9.83" y="0" class="l">1.45</text><rect x="-9.63" y="-1.48" width="2.1" height="3.55" fill="#fff"/><rect x="-6.06" y="-1.48" width="1.78" height="3.55" fill="#fff"/></g>
<g transform="translate(455.36 178.5)"><text x="-7.02" y="0" class="l">1.6</text><rect x="-6.82" y="-1.48" width="2.1" height="3.55" fill="#fff"/><rect x="-3.25" y="-1.48" width="1.78" height="3.55" fill="#fff"/></g>
<g transform="translate(488.6 178.5)"><text x="-7.02" y="0" class="l">1.8</text><rect x="-6.82" y="-1.48" width="2.1" height="3.55" fill="#fff"/><rect x="-3.25" y="-1.48" width="1.78" height="3.55" fill="#fff"/></g>
<text x="421.95" y="188.6" text-anchor="middle" class="l">Poverty-income Ratio</text>
<text transform="translate(295.9 102.25) rotate(-90)" text-anchor="middle" class="l">Glucose meets MetS criteria</text>
<text x="421.95" y="36.7" text-anchor="middle" class="t">Glucose meets MetS criteria</text>
<line x1="53.7" y1="345.8" x2="265" y2="345.8" stroke="#e5eff0" stroke-width="1"/>
<line x1="53.7" y1="324.34" x2="265" y2="324.34" stroke="#e5eff0" stroke-width="1"/>
<line x1="53.7" y1="302.88" x2="265" y2="302.88" stroke="#e5eff0" stroke-width="1"/>
<line x1="53.7" y1="281.42" x2="265" y2="281.42" stroke="#e5eff0" stroke-width="1"/>
<line x1="53.7" y1="259.96" x2="265" y2="259.96" stroke="#e5eff0" stroke-width="1"/>
<line x1="53.7" y1="238.5" x2="265" y2="238.5" stroke="#e5eff0" stroke-width="1"/>
<line x1="167.35" y1="231.8" x2="167.35" y2="352.3" stroke="#cf3868" stroke-width="1.35"/>
<path d="M101.25 273.5a1.15 1.15 0 1 0 2.3 0a1.15 1.15 0 1 0 -2.3 0zM74.75 310.9a1.15 1.15 0 1 0 2.3 0a1.15 1.15 0 1 0 -2.3 0zM109.45 308.6a1.15 1.15 0 1 0 2.3 0a1.15 1.15 0 1 0 -2.3 0zM109.45 316.1a1.15 1.15 0 1 0 2.3 0a1.15 1.15 0 1 0 -2.3 0zM122.75 309.8a1.15 1.15 0 1 0 2.3 0a1.15 1.15 0 1 0 -2.3 0zM106.05 325a1.15 1.15 0 1 0 2.3 0a1.15 1.15 0 1 0 -2.3 0zM131.05 328.5a1.15 1.15 0 1 0 2.3 0a1.15 1.15 0 1 0 -2.3 0zM132.85 332a1.15 1.15 0 1 0 2.3 0a1.15 1.15 0 1 0 -2.3 0zM117.95 335.9a1.15 1.15 0 1 0 2.3 0a1.15 1.15 0 1 0 -2.3 0zM124.25 334.4a1.15 1.15 0 1 0 2.3 0a1.15 1.15 0 1 0 -2.3 0zM96.35 339.2a1.15 1.15 0 1 0 2.3 0a1.15 1.15 0 1 0 -2.3 0zM157.75 238.2a1.15 1.15 0 1 0 2.3 0a1.15 1.15 0 1 0 -2.3 0zM190.95 238.2a1.15 1.15 0 1 0 2.3 0a1.15 1.15 0 1 0 -2.3 0zM204.25 238.2a1.15 1.15 0 1 0 2.3 0a1.15 1.15 0 1 0 -2.3 0zM199.15 249.7a1.15 1.15 0 1 0 2.3 0a1.15 1.15 0 1 0 -2.3 0zM142.75 276.5a1.15 1.15 0 1 0 2.3 0a1.15 1.15 0 1 0 -2.3 0zM146.05 308.6a1.15 1.15 0 1 0 2.3 0a1.15 1.15 0 1 0 -2.3 0zM149.55 319.8a1.15 1.15 0 1 0 2.3 0a1.15 1.15 0 1 0 -2.3 0zM167.85 302.7a1.15 1.15 0 1 0 2.3 0a1.15 1.15 0 1 0 -2.3 0zM176.05 309.8a1.15 1.15 0 1 0 2.3 0a1.15 1.15 0 1 0 -2.3 0zM179.35 307.1a1.15 1.15 0 1 0 2.3 0a1.15 1.15 0 1 0 -2.3 0zM205.85 311.9a1.15 1.15 0 1 0 2.3 0a1.15 1.15 0 1 0 -2.3 0zM136.05 337.4a1.15 1.15 0 1 0 2.3 0a1.15 1.15 0 1 0 -2.3 0zM137.55 341.4a1.15 1.15 0 1 0 2.3 0a1.15 1.15 0 1 0 -2.3 0zM177.05 342.2a1.15 1.15 0 1 0 2.3 0a1.15 1.15 0 1 0 -2.3 0zM254.05 238.2a1.15 1.15 0 1 0 2.3 0a1.15 1.15 0 1 0 -2.3 0zM205.95 312.1a1.15 1.15 0 1 0 2.3 0a1.15 1.15 0 1 0 -2.3 0z" fill="#8a8a8a"/>
<path d="M74.1 344.9h2v2h-2zM75.52 344.9h2v2h-2zM76.95 344.9h2v2h-2zM78.37 344.9h2v2h-2zM79.8 344.9h2v2h-2zM81.22 344.9h2v2h-2zM82.64 344.9h2v2h-2zM84.07 344.9h2v2h-2zM85.49 344.9h2v2h-2zM86.91 344.9h2v2h-2zM88.34 344.9h2v2h-2zM89.76 344.9h2v2h-2zM91.19 344.9h2v2h-2zM92.61 344.9h2v2h-2zM94.03 344.9h2v2h-2zM95.46 344.9h2v2h-2zM96.88 344.9h2v2h-2zM98.3 344.9h2v2h-2zM99.73 344.9h2v2h-2zM101.15 344.9h2v2h-2zM102.58 344.9h2v2h-2zM104 344.9h2v2h-2zM108 344.9h2v2h-2zM110.7 344.9h2v2h-2zM111.97 344.9h2v2h-2zM113.25 344.9h2v2h-2zM114.53 344.9h2v2h-2zM115.8 344.9h2v2h-2zM119.6 344.9h2v2h-2zM120.92 344.9h2v2h-2zM122.24 344.9h2v2h-2zM123.57 344.9h2v2h-2zM124.89 344.9h2v2h-2zM126.21 344.9h2v2h-2zM127.53 344.9h2v2h-2zM128.86 344.9h2v2h-2zM130.18 344.9h2v2h-2zM131.5 344.9h2v2h-2zM133.8 344.9h2v2h-2zM135.34 344.9h2v2h-2zM136.88 344.9h2v2h-2zM138.42 344.9h2v2h-2zM139.96 344.9h2v2h-2zM141.5 344.9h2v2h-2zM143.7 344.9h2v2h-2zM145.11 344.9h2v2h-2zM146.51 344.9h2v2h-2zM147.92 344.9h2v2h-2zM149.33 344.9h2v2h-2zM150.73 344.9h2v2h-2zM152.14 344.9h2v2h-2zM153.55 344.9h2v2h-2zM154.95 344.9h2v2h-2zM156.36 344.9h2v2h-2zM157.77 344.9h2v2h-2zM159.17 344.9h2v2h-2zM160.58 344.9h2v2h-2zM161.99 344.9h2v2h-2zM163.39 344.9h2v2h-2zM164.8 344.9h2v2h-2zM166.21 344.9h2v2h-2zM167.61 344.9h2v2h-2zM169.02 344.9h2v2h-2zM170.43 344.9h2v2h-2zM171.83 344.9h2v2h-2zM173.24 344.9h2v2h-2zM174.65 344.9h2v2h-2zM176.05 344.9h2v2h-2zM177.46 344.9h2v2h-2zM178.87 344.9h2v2h-2zM180.27 344.9h2v2h-2zM181.68 344.9h2v2h-2zM183.09 344.9h2v2h-2zM184.49 344.9h2v2h-2zM185.9 344.9h2v2h-2zM187.31 344.9h2v2h-2zM188.71 344.9h2v2h-2zM190.12 344.9h2v2h-2zM191.53 344.9h2v2h-2zM192.93 344.9h2v2h-2zM194.34 344.9h2v2h-2zM195.75 344.9h2v2h-2zM197.15 344.9h2v2h-2zM198.56 344.9h2v2h-2zM199.97 344.9h2v2h-2zM201.37 344.9h2v2h-2zM202.78 344.9h2v2h-2zM204.19 344.9h2v2h-2zM205.59 344.9h2v2h-2zM207 344.9h2v2h-2zM209.3 344.9h2v2h-2zM210.7 344.9h2v2h-2zM212.1 344.9h2v2h-2zM213.6 344.9h2v2h-2zM215.09 344.9h2v2h-2zM216.57 344.9h2v2h-2zM218.06 344.9h2v2h-2zM219.54 344.9h2v2h-2zM221.03 344.9h2v2h-2zM222.51 344.9h2v2h-2zM224 344.9h2v2h-2zM225.5 344.9h2v2h-2zM227 344.9h2v2h-2zM228.5 344.9h2v2h-2zM230 344.9h2v2h-2zM231.5 344.9h2v2h-2zM233 344.9h2v2h-2zM234.5 344.9h2v2h-2zM236 344.9h2v2h-2zM237.5 344.9h2v2h-2zM239 344.9h2v2h-2zM240.4 344.9h2v2h-2zM241.81 344.9h2v2h-2zM243.22 344.9h2v2h-2zM244.63 344.9h2v2h-2zM246.04 344.9h2v2h-2zM247.46 344.9h2v2h-2zM248.87 344.9h2v2h-2zM250.28 344.9h2v2h-2zM251.69 344.9h2v2h-2zM253.1 344.9h2v2h-2zM255.3 344.9h2v2h-2zM256.8 344.9h2v2h-2zM258.3 344.9h2v2h-2z" fill="#979797"/>
<path d="M75.92 342.05L167.37 339.15L167.33 337.85L75.88 340.75z" fill="#111111"/>
<path d="M169.28 341.05L256.58 343.75L256.62 342.45L169.32 339.75z" fill="#111111"/>
<path d="M52.7 231.8V352.3H265" fill="none" stroke="#3c3c3c" stroke-width="1.4" stroke-linejoin="round"/>
<path d="M48.7 345.8H52.7M48.7 324.34H52.7M48.7 302.88H52.7M48.7 281.42H52.7M48.7 259.96H52.7M48.7 238.5H52.7M59.3 352.3V356.5M92.54 352.3V356.5M125.78 352.3V356.5M142.4 352.3V356.5M167.33 352.3V356.5M192.26 352.3V356.5M225.5 352.3V356.5" stroke="#3c3c3c" stroke-width="1.1" fill="none"/>
<g transform="translate(44.9 345.8) rotate(-90)"><text x="-2.81" y="0" class="l">0</text></g>
<g transform="translate(44.9 324.34) rotate(-90)"><text x="-4.21" y="0" class="l">.2</text></g>
<g transform="translate(44.9 302.88) rotate(-90)"><text x="-4.21" y="0" class="l">.4</text></g>
<g transform="translate(44.9 281.42) rotate(-90)"><text x="-4.21" y="0" class="l">.6</text></g>
<g transform="translate(44.9 259.96) rotate(-90)"><text x="-4.21" y="0" class="l">.8</text></g>
<g transform="translate(44.9 238.5) rotate(-90)"><text x="-2.81" y="0" class="l">1</text><rect x="-2.61" y="-1.48" width="2.1" height="3.55" fill="#fff"/><rect x="0.96" y="-1.48" width="1.78" height="3.55" fill="#fff"/></g>
<g transform="translate(59.3 368.3)"><text x="-4.21" y="0" class="l">.8</text></g>
<g transform="translate(92.54 368.3)"><text x="-2.81" y="0" class="l">1</text><rect x="-2.61" y="-1.48" width="2.1" height="3.55" fill="#fff"/><rect x="0.96" y="-1.48" width="1.78" height="3.55" fill="#fff"/></g>
<g transform="translate(125.78 368.3)"><text x="-7.02" y="0" class="l">1.2</text><rect x="-6.82" y="-1.48" width="2.1" height="3.55" fill="#fff"/><rect x="-3.25" y="-1.48" width="1.78" height="3.55" fill="#fff"/></g>
<g transform="translate(142.4 368.3)"><text x="-7.02" y="0" class="l">1.3</text><rect x="-6.82" y="-1.48" width="2.1" height="3.55" fill="#fff"/><rect x="-3.25" y="-1.48" width="1.78" height="3.55" fill="#fff"/></g>
<g transform="translate(167.33 368.3)"><text x="-9.83" y="0" class="l">1.45</text><rect x="-9.63" y="-1.48" width="2.1" height="3.55" fill="#fff"/><rect x="-6.06" y="-1.48" width="1.78" height="3.55" fill="#fff"/></g>
<g transform="translate(192.26 368.3)"><text x="-7.02" y="0" class="l">1.6</text><rect x="-6.82" y="-1.48" width="2.1" height="3.55" fill="#fff"/><rect x="-3.25" y="-1.48" width="1.78" height="3.55" fill="#fff"/></g>
<g transform="translate(225.5 368.3)"><text x="-7.02" y="0" class="l">1.8</text><rect x="-6.82" y="-1.48" width="2.1" height="3.55" fill="#fff"/><rect x="-3.25" y="-1.48" width="1.78" height="3.55" fill="#fff"/></g>
<text x="158.85" y="378.4" text-anchor="middle" class="l">Poverty-income Ratio</text>
<text transform="translate(32.8 292.05) rotate(-90)" text-anchor="middle" class="l">Child meets MetS criteria</text>
<text x="158.85" y="226.5" text-anchor="middle" class="t">Child meets MetS criteria</text>
<line x1="316.8" y1="345.75" x2="528.1" y2="345.75" stroke="#e5eff0" stroke-width="1"/>
<line x1="316.8" y1="318.9" x2="528.1" y2="318.9" stroke="#e5eff0" stroke-width="1"/>
<line x1="316.8" y1="292.05" x2="528.1" y2="292.05" stroke="#e5eff0" stroke-width="1"/>
<line x1="316.8" y1="265.2" x2="528.1" y2="265.2" stroke="#e5eff0" stroke-width="1"/>
<line x1="316.8" y1="238.35" x2="528.1" y2="238.35" stroke="#e5eff0" stroke-width="1"/>
<line x1="430.45" y1="231.8" x2="430.45" y2="352.3" stroke="#cf3868" stroke-width="1.35"/>
<path d="M359.35 295.3a1.15 1.15 0 1 0 2.3 0a1.15 1.15 0 1 0 -2.3 0zM337.35 304.8a1.15 1.15 0 1 0 2.3 0a1.15 1.15 0 1 0 -2.3 0zM338.85 305.8a1.15 1.15 0 1 0 2.3 0a1.15 1.15 0 1 0 -2.3 0zM339.85 306.2a1.15 1.15 0 1 0 2.3 0a1.15 1.15 0 1 0 -2.3 0zM345.85 308.3a1.15 1.15 0 1 0 2.3 0a1.15 1.15 0 1 0 -2.3 0zM344.35 311.5a1.15 1.15 0 1 0 2.3 0a1.15 1.15 0 1 0 -2.3 0zM347.85 311.5a1.15 1.15 0 1 0 2.3 0a1.15 1.15 0 1 0 -2.3 0zM364.35 304.3a1.15 1.15 0 1 0 2.3 0a1.15 1.15 0 1 0 -2.3 0zM367.85 307a1.15 1.15 0 1 0 2.3 0a1.15 1.15 0 1 0 -2.3 0zM371.35 302a1.15 1.15 0 1 0 2.3 0a1.15 1.15 0 1 0 -2.3 0zM370.85 310a1.15 1.15 0 1 0 2.3 0a1.15 1.15 0 1 0 -2.3 0zM341.35 315.5a1.15 1.15 0 1 0 2.3 0a1.15 1.15 0 1 0 -2.3 0zM342.85 315a1.15 1.15 0 1 0 2.3 0a1.15 1.15 0 1 0 -2.3 0zM344.35 314.5a1.15 1.15 0 1 0 2.3 0a1.15 1.15 0 1 0 -2.3 0zM347.35 316a1.15 1.15 0 1 0 2.3 0a1.15 1.15 0 1 0 -2.3 0zM348.85 315.8a1.15 1.15 0 1 0 2.3 0a1.15 1.15 0 1 0 -2.3 0zM365.85 315.8a1.15 1.15 0 1 0 2.3 0a1.15 1.15 0 1 0 -2.3 0zM369.35 314.5a1.15 1.15 0 1 0 2.3 0a1.15 1.15 0 1 0 -2.3 0zM337.75 324.6a1.15 1.15 0 1 0 2.3 0a1.15 1.15 0 1 0 -2.3 0zM344.45 325.5a1.15 1.15 0 1 0 2.3 0a1.15 1.15 0 1 0 -2.3 0zM345.15 326.5a1.15 1.15 0 1 0 2.3 0a1.15 1.15 0 1 0 -2.3 0zM345.95 324.3a1.15 1.15 0 1 0 2.3 0a1.15 1.15 0 1 0 -2.3 0zM344.45 329.1a1.15 1.15 0 1 0 2.3 0a1.15 1.15 0 1 0 -2.3 0zM351.15 327.6a1.15 1.15 0 1 0 2.3 0a1.15 1.15 0 1 0 -2.3 0zM351.15 329.5a1.15 1.15 0 1 0 2.3 0a1.15 1.15 0 1 0 -2.3 0zM352.65 322.1a1.15 1.15 0 1 0 2.3 0a1.15 1.15 0 1 0 -2.3 0zM354.15 322.5a1.15 1.15 0 1 0 2.3 0a1.15 1.15 0 1 0 -2.3 0zM356.35 323.1a1.15 1.15 0 1 0 2.3 0a1.15 1.15 0 1 0 -2.3 0zM357.85 324a1.15 1.15 0 1 0 2.3 0a1.15 1.15 0 1 0 -2.3 0zM355.95 325a1.15 1.15 0 1 0 2.3 0a1.15 1.15 0 1 0 -2.3 0zM360.85 320.6a1.15 1.15 0 1 0 2.3 0a1.15 1.15 0 1 0 -2.3 0zM360.85 326.5a1.15 1.15 0 1 0 2.3 0a1.15 1.15 0 1 0 -2.3 0zM359.35 330a1.15 1.15 0 1 0 2.3 0a1.15 1.15 0 1 0 -2.3 0zM364.25 330a1.15 1.15 0 1 0 2.3 0a1.15 1.15 0 1 0 -2.3 0zM349.35 337.4a1.15 1.15 0 1 0 2.3 0a1.15 1.15 0 1 0 -2.3 0zM344.45 341.9a1.15 1.15 0 1 0 2.3 0a1.15 1.15 0 1 0 -2.3 0zM367.55 307.1a1.15 1.15 0 1 0 2.3 0a1.15 1.15 0 1 0 -2.3 0zM372.75 301.9a1.15 1.15 0 1 0 2.3 0a1.15 1.15 0 1 0 -2.3 0zM377.55 299.4a1.15 1.15 0 1 0 2.3 0a1.15 1.15 0 1 0 -2.3 0zM376.05 307.9a1.15 1.15 0 1 0 2.3 0a1.15 1.15 0 1 0 -2.3 0zM366.05 316.1a1.15 1.15 0 1 0 2.3 0a1.15 1.15 0 1 0 -2.3 0zM367.55 317.1a1.15 1.15 0 1 0 2.3 0a1.15 1.15 0 1 0 -2.3 0zM372.75 315.6a1.15 1.15 0 1 0 2.3 0a1.15 1.15 0 1 0 -2.3 0zM370.85 320.6a1.15 1.15 0 1 0 2.3 0a1.15 1.15 0 1 0 -2.3 0zM375.75 321.3a1.15 1.15 0 1 0 2.3 0a1.15 1.15 0 1 0 -2.3 0zM376.45 322.8a1.15 1.15 0 1 0 2.3 0a1.15 1.15 0 1 0 -2.3 0zM377.95 325.8a1.15 1.15 0 1 0 2.3 0a1.15 1.15 0 1 0 -2.3 0zM379.15 327a1.15 1.15 0 1 0 2.3 0a1.15 1.15 0 1 0 -2.3 0zM374.25 331.7a1.15 1.15 0 1 0 2.3 0a1.15 1.15 0 1 0 -2.3 0zM377.95 332a1.15 1.15 0 1 0 2.3 0a1.15 1.15 0 1 0 -2.3 0zM379.45 331.2a1.15 1.15 0 1 0 2.3 0a1.15 1.15 0 1 0 -2.3 0zM374.25 336.7a1.15 1.15 0 1 0 2.3 0a1.15 1.15 0 1 0 -2.3 0zM380.95 315.3a1.15 1.15 0 1 0 2.3 0a1.15 1.15 0 1 0 -2.3 0zM382.45 319.8a1.15 1.15 0 1 0 2.3 0a1.15 1.15 0 1 0 -2.3 0zM384.65 324.6a1.15 1.15 0 1 0 2.3 0a1.15 1.15 0 1 0 -2.3 0zM386.15 325.5a1.15 1.15 0 1 0 2.3 0a1.15 1.15 0 1 0 -2.3 0zM385.75 312.7a1.15 1.15 0 1 0 2.3 0a1.15 1.15 0 1 0 -2.3 0zM387.65 313.4a1.15 1.15 0 1 0 2.3 0a1.15 1.15 0 1 0 -2.3 0zM389.45 313.9a1.15 1.15 0 1 0 2.3 0a1.15 1.15 0 1 0 -2.3 0zM389.15 299.4a1.15 1.15 0 1 0 2.3 0a1.15 1.15 0 1 0 -2.3 0zM392.55 307.1a1.15 1.15 0 1 0 2.3 0a1.15 1.15 0 1 0 -2.3 0zM394.35 303.1a1.15 1.15 0 1 0 2.3 0a1.15 1.15 0 1 0 -2.3 0zM397.35 298.2a1.15 1.15 0 1 0 2.3 0a1.15 1.15 0 1 0 -2.3 0zM394.05 313.1a1.15 1.15 0 1 0 2.3 0a1.15 1.15 0 1 0 -2.3 0zM387.65 321.8a1.15 1.15 0 1 0 2.3 0a1.15 1.15 0 1 0 -2.3 0zM390.65 326.2a1.15 1.15 0 1 0 2.3 0a1.15 1.15 0 1 0 -2.3 0zM389.15 332.9a1.15 1.15 0 1 0 2.3 0a1.15 1.15 0 1 0 -2.3 0zM395.85 322.1a1.15 1.15 0 1 0 2.3 0a1.15 1.15 0 1 0 -2.3 0zM398.15 322.8a1.15 1.15 0 1 0 2.3 0a1.15 1.15 0 1 0 -2.3 0zM398.15 319.1a1.15 1.15 0 1 0 2.3 0a1.15 1.15 0 1 0 -2.3 0zM387.65 282.5a1.15 1.15 0 1 0 2.3 0a1.15 1.15 0 1 0 -2.3 0zM397.55 297.8a1.15 1.15 0 1 0 2.3 0a1.15 1.15 0 1 0 -2.3 0zM409.05 297a1.15 1.15 0 1 0 2.3 0a1.15 1.15 0 1 0 -2.3 0zM399.05 303a1.15 1.15 0 1 0 2.3 0a1.15 1.15 0 1 0 -2.3 0zM405.75 301.9a1.15 1.15 0 1 0 2.3 0a1.15 1.15 0 1 0 -2.3 0zM420.75 305.4a1.15 1.15 0 1 0 2.3 0a1.15 1.15 0 1 0 -2.3 0zM411.05 308.6a1.15 1.15 0 1 0 2.3 0a1.15 1.15 0 1 0 -2.3 0zM412.55 306.4a1.15 1.15 0 1 0 2.3 0a1.15 1.15 0 1 0 -2.3 0zM427.45 305.7a1.15 1.15 0 1 0 2.3 0a1.15 1.15 0 1 0 -2.3 0zM427.45 307.1a1.15 1.15 0 1 0 2.3 0a1.15 1.15 0 1 0 -2.3 0zM428.85 298.2a1.15 1.15 0 1 0 2.3 0a1.15 1.15 0 1 0 -2.3 0zM432.35 292.2a1.15 1.15 0 1 0 2.3 0a1.15 1.15 0 1 0 -2.3 0zM404.05 312.1a1.15 1.15 0 1 0 2.3 0a1.15 1.15 0 1 0 -2.3 0zM404.05 313.9a1.15 1.15 0 1 0 2.3 0a1.15 1.15 0 1 0 -2.3 0zM417.75 313.1a1.15 1.15 0 1 0 2.3 0a1.15 1.15 0 1 0 -2.3 0zM419.25 313.1a1.15 1.15 0 1 0 2.3 0a1.15 1.15 0 1 0 -2.3 0zM400.55 315a1.15 1.15 0 1 0 2.3 0a1.15 1.15 0 1 0 -2.3 0zM413.95 315.6a1.15 1.15 0 1 0 2.3 0a1.15 1.15 0 1 0 -2.3 0zM419.25 317.6a1.15 1.15 0 1 0 2.3 0a1.15 1.15 0 1 0 -2.3 0zM408.75 317.6a1.15 1.15 0 1 0 2.3 0a1.15 1.15 0 1 0 -2.3 0zM399.05 319.8a1.15 1.15 0 1 0 2.3 0a1.15 1.15 0 1 0 -2.3 0zM397.55 322.1a1.15 1.15 0 1 0 2.3 0a1.15 1.15 0 1 0 -2.3 0zM412.55 321.3a1.15 1.15 0 1 0 2.3 0a1.15 1.15 0 1 0 -2.3 0zM413.95 322.1a1.15 1.15 0 1 0 2.3 0a1.15 1.15 0 1 0 -2.3 0zM423.65 319.1a1.15 1.15 0 1 0 2.3 0a1.15 1.15 0 1 0 -2.3 0zM423.95 321.3a1.15 1.15 0 1 0 2.3 0a1.15 1.15 0 1 0 -2.3 0zM422.15 323.5a1.15 1.15 0 1 0 2.3 0a1.15 1.15 0 1 0 -2.3 0zM425.65 325a1.15 1.15 0 1 0 2.3 0a1.15 1.15 0 1 0 -2.3 0zM428.65 319.8a1.15 1.15 0 1 0 2.3 0a1.15 1.15 0 1 0 -2.3 0zM400.55 326.5a1.15 1.15 0 1 0 2.3 0a1.15 1.15 0 1 0 -2.3 0zM401.05 329.1a1.15 1.15 0 1 0 2.3 0a1.15 1.15 0 1 0 -2.3 0zM402.85 329.1a1.15 1.15 0 1 0 2.3 0a1.15 1.15 0 1 0 -2.3 0zM413.95 328a1.15 1.15 0 1 0 2.3 0a1.15 1.15 0 1 0 -2.3 0zM416.25 327.3a1.15 1.15 0 1 0 2.3 0a1.15 1.15 0 1 0 -2.3 0zM417.75 327.3a1.15 1.15 0 1 0 2.3 0a1.15 1.15 0 1 0 -2.3 0zM420.75 331a1.15 1.15 0 1 0 2.3 0a1.15 1.15 0 1 0 -2.3 0zM415.75 339.5a1.15 1.15 0 1 0 2.3 0a1.15 1.15 0 1 0 -2.3 0zM428.85 329.1a1.15 1.15 0 1 0 2.3 0a1.15 1.15 0 1 0 -2.3 0zM432.35 310.1a1.15 1.15 0 1 0 2.3 0a1.15 1.15 0 1 0 -2.3 0zM435.95 308.6a1.15 1.15 0 1 0 2.3 0a1.15 1.15 0 1 0 -2.3 0zM435.95 310.1a1.15 1.15 0 1 0 2.3 0a1.15 1.15 0 1 0 -2.3 0zM439.05 301.2a1.15 1.15 0 1 0 2.3 0a1.15 1.15 0 1 0 -2.3 0zM444.25 301.2a1.15 1.15 0 1 0 2.3 0a1.15 1.15 0 1 0 -2.3 0zM450.55 298.2a1.15 1.15 0 1 0 2.3 0a1.15 1.15 0 1 0 -2.3 0zM440.85 305.7a1.15 1.15 0 1 0 2.3 0a1.15 1.15 0 1 0 -2.3 0zM447.55 303.7a1.15 1.15 0 1 0 2.3 0a1.15 1.15 0 1 0 -2.3 0zM457.25 304.5a1.15 1.15 0 1 0 2.3 0a1.15 1.15 0 1 0 -2.3 0zM462.45 301.2a1.15 1.15 0 1 0 2.3 0a1.15 1.15 0 1 0 -2.3 0zM468.85 300a1.15 1.15 0 1 0 2.3 0a1.15 1.15 0 1 0 -2.3 0zM439.35 309.4a1.15 1.15 0 1 0 2.3 0a1.15 1.15 0 1 0 -2.3 0zM441.55 310.9a1.15 1.15 0 1 0 2.3 0a1.15 1.15 0 1 0 -2.3 0zM443.05 311.6a1.15 1.15 0 1 0 2.3 0a1.15 1.15 0 1 0 -2.3 0zM444.55 312.1a1.15 1.15 0 1 0 2.3 0a1.15 1.15 0 1 0 -2.3 0zM447.55 310.1a1.15 1.15 0 1 0 2.3 0a1.15 1.15 0 1 0 -2.3 0zM449.05 310.9a1.15 1.15 0 1 0 2.3 0a1.15 1.15 0 1 0 -2.3 0zM455.75 308.6a1.15 1.15 0 1 0 2.3 0a1.15 1.15 0 1 0 -2.3 0zM457.25 308.6a1.15 1.15 0 1 0 2.3 0a1.15 1.15 0 1 0 -2.3 0zM434.15 318.3a1.15 1.15 0 1 0 2.3 0a1.15 1.15 0 1 0 -2.3 0zM435.95 319.5a1.15 1.15 0 1 0 2.3 0a1.15 1.15 0 1 0 -2.3 0zM441.55 316.1a1.15 1.15 0 1 0 2.3 0a1.15 1.15 0 1 0 -2.3 0zM442.35 318.3a1.15 1.15 0 1 0 2.3 0a1.15 1.15 0 1 0 -2.3 0zM452.75 314.2a1.15 1.15 0 1 0 2.3 0a1.15 1.15 0 1 0 -2.3 0zM462.45 313.9a1.15 1.15 0 1 0 2.3 0a1.15 1.15 0 1 0 -2.3 0zM462.45 316.5a1.15 1.15 0 1 0 2.3 0a1.15 1.15 0 1 0 -2.3 0zM462.45 318.6a1.15 1.15 0 1 0 2.3 0a1.15 1.15 0 1 0 -2.3 0zM467.65 312.1a1.15 1.15 0 1 0 2.3 0a1.15 1.15 0 1 0 -2.3 0zM472.15 315.6a1.15 1.15 0 1 0 2.3 0a1.15 1.15 0 1 0 -2.3 0zM474.05 309.8a1.15 1.15 0 1 0 2.3 0a1.15 1.15 0 1 0 -2.3 0zM477.35 313.6a1.15 1.15 0 1 0 2.3 0a1.15 1.15 0 1 0 -2.3 0zM477.35 315.6a1.15 1.15 0 1 0 2.3 0a1.15 1.15 0 1 0 -2.3 0zM456.45 319.8a1.15 1.15 0 1 0 2.3 0a1.15 1.15 0 1 0 -2.3 0zM459.45 321.3a1.15 1.15 0 1 0 2.3 0a1.15 1.15 0 1 0 -2.3 0zM460.95 322.5a1.15 1.15 0 1 0 2.3 0a1.15 1.15 0 1 0 -2.3 0zM462.45 320.6a1.15 1.15 0 1 0 2.3 0a1.15 1.15 0 1 0 -2.3 0zM465.75 321.8a1.15 1.15 0 1 0 2.3 0a1.15 1.15 0 1 0 -2.3 0zM432.35 324.3a1.15 1.15 0 1 0 2.3 0a1.15 1.15 0 1 0 -2.3 0zM446.05 324a1.15 1.15 0 1 0 2.3 0a1.15 1.15 0 1 0 -2.3 0zM446.05 327.3a1.15 1.15 0 1 0 2.3 0a1.15 1.15 0 1 0 -2.3 0zM444.55 328.5a1.15 1.15 0 1 0 2.3 0a1.15 1.15 0 1 0 -2.3 0zM463.95 324a1.15 1.15 0 1 0 2.3 0a1.15 1.15 0 1 0 -2.3 0zM469.15 319.5a1.15 1.15 0 1 0 2.3 0a1.15 1.15 0 1 0 -2.3 0zM474.05 322.8a1.15 1.15 0 1 0 2.3 0a1.15 1.15 0 1 0 -2.3 0zM478.15 324.6a1.15 1.15 0 1 0 2.3 0a1.15 1.15 0 1 0 -2.3 0zM453.95 329.8a1.15 1.15 0 1 0 2.3 0a1.15 1.15 0 1 0 -2.3 0zM462.45 328.5a1.15 1.15 0 1 0 2.3 0a1.15 1.15 0 1 0 -2.3 0zM463.95 329.5a1.15 1.15 0 1 0 2.3 0a1.15 1.15 0 1 0 -2.3 0zM447.25 332a1.15 1.15 0 1 0 2.3 0a1.15 1.15 0 1 0 -2.3 0zM458.75 333.5a1.15 1.15 0 1 0 2.3 0a1.15 1.15 0 1 0 -2.3 0zM473.65 330.3a1.15 1.15 0 1 0 2.3 0a1.15 1.15 0 1 0 -2.3 0zM474.05 332.5a1.15 1.15 0 1 0 2.3 0a1.15 1.15 0 1 0 -2.3 0zM469.15 334.7a1.15 1.15 0 1 0 2.3 0a1.15 1.15 0 1 0 -2.3 0zM445.75 336.5a1.15 1.15 0 1 0 2.3 0a1.15 1.15 0 1 0 -2.3 0zM450.55 337a1.15 1.15 0 1 0 2.3 0a1.15 1.15 0 1 0 -2.3 0zM477.35 336.2a1.15 1.15 0 1 0 2.3 0a1.15 1.15 0 1 0 -2.3 0zM453.95 248.3a1.15 1.15 0 1 0 2.3 0a1.15 1.15 0 1 0 -2.3 0zM467.25 277.3a1.15 1.15 0 1 0 2.3 0a1.15 1.15 0 1 0 -2.3 0zM407.25 285.6a1.15 1.15 0 1 0 2.3 0a1.15 1.15 0 1 0 -2.3 0zM415.75 286.4a1.15 1.15 0 1 0 2.3 0a1.15 1.15 0 1 0 -2.3 0zM498.85 296a1.15 1.15 0 1 0 2.3 0a1.15 1.15 0 1 0 -2.3 0zM462.15 301.2a1.15 1.15 0 1 0 2.3 0a1.15 1.15 0 1 0 -2.3 0zM468.95 300a1.15 1.15 0 1 0 2.3 0a1.15 1.15 0 1 0 -2.3 0zM488.65 299.7a1.15 1.15 0 1 0 2.3 0a1.15 1.15 0 1 0 -2.3 0zM505.55 305.2a1.15 1.15 0 1 0 2.3 0a1.15 1.15 0 1 0 -2.3 0zM515.55 306a1.15 1.15 0 1 0 2.3 0a1.15 1.15 0 1 0 -2.3 0zM473.75 309.7a1.15 1.15 0 1 0 2.3 0a1.15 1.15 0 1 0 -2.3 0zM467.35 311.9a1.15 1.15 0 1 0 2.3 0a1.15 1.15 0 1 0 -2.3 0zM462.15 314.2a1.15 1.15 0 1 0 2.3 0a1.15 1.15 0 1 0 -2.3 0zM462.15 315.6a1.15 1.15 0 1 0 2.3 0a1.15 1.15 0 1 0 -2.3 0zM472.25 315.3a1.15 1.15 0 1 0 2.3 0a1.15 1.15 0 1 0 -2.3 0zM477.15 313.1a1.15 1.15 0 1 0 2.3 0a1.15 1.15 0 1 0 -2.3 0zM477.15 315a1.15 1.15 0 1 0 2.3 0a1.15 1.15 0 1 0 -2.3 0zM480.75 313.9a1.15 1.15 0 1 0 2.3 0a1.15 1.15 0 1 0 -2.3 0zM483.75 314.6a1.15 1.15 0 1 0 2.3 0a1.15 1.15 0 1 0 -2.3 0zM505.55 312.8a1.15 1.15 0 1 0 2.3 0a1.15 1.15 0 1 0 -2.3 0zM510.25 313.9a1.15 1.15 0 1 0 2.3 0a1.15 1.15 0 1 0 -2.3 0zM511.75 312.8a1.15 1.15 0 1 0 2.3 0a1.15 1.15 0 1 0 -2.3 0zM512.25 316.5a1.15 1.15 0 1 0 2.3 0a1.15 1.15 0 1 0 -2.3 0zM518.45 312.1a1.15 1.15 0 1 0 2.3 0a1.15 1.15 0 1 0 -2.3 0zM520.25 312.1a1.15 1.15 0 1 0 2.3 0a1.15 1.15 0 1 0 -2.3 0zM496.85 318.6a1.15 1.15 0 1 0 2.3 0a1.15 1.15 0 1 0 -2.3 0zM498.85 318.6a1.15 1.15 0 1 0 2.3 0a1.15 1.15 0 1 0 -2.3 0zM490.65 319.5a1.15 1.15 0 1 0 2.3 0a1.15 1.15 0 1 0 -2.3 0zM485.65 321.3a1.15 1.15 0 1 0 2.3 0a1.15 1.15 0 1 0 -2.3 0zM508.85 321a1.15 1.15 0 1 0 2.3 0a1.15 1.15 0 1 0 -2.3 0zM515.55 321.8a1.15 1.15 0 1 0 2.3 0a1.15 1.15 0 1 0 -2.3 0zM518.45 319.4a1.15 1.15 0 1 0 2.3 0a1.15 1.15 0 1 0 -2.3 0zM460.35 322.1a1.15 1.15 0 1 0 2.3 0a1.15 1.15 0 1 0 -2.3 0zM461.05 323.5a1.15 1.15 0 1 0 2.3 0a1.15 1.15 0 1 0 -2.3 0zM465.55 322.1a1.15 1.15 0 1 0 2.3 0a1.15 1.15 0 1 0 -2.3 0zM464.05 324.6a1.15 1.15 0 1 0 2.3 0a1.15 1.15 0 1 0 -2.3 0zM473.75 322.8a1.15 1.15 0 1 0 2.3 0a1.15 1.15 0 1 0 -2.3 0zM478.95 324.6a1.15 1.15 0 1 0 2.3 0a1.15 1.15 0 1 0 -2.3 0zM480.45 326.1a1.15 1.15 0 1 0 2.3 0a1.15 1.15 0 1 0 -2.3 0zM488.65 325.5a1.15 1.15 0 1 0 2.3 0a1.15 1.15 0 1 0 -2.3 0zM490.15 324.6a1.15 1.15 0 1 0 2.3 0a1.15 1.15 0 1 0 -2.3 0zM495.35 324.6a1.15 1.15 0 1 0 2.3 0a1.15 1.15 0 1 0 -2.3 0zM497.65 325.3a1.15 1.15 0 1 0 2.3 0a1.15 1.15 0 1 0 -2.3 0zM510.25 326.5a1.15 1.15 0 1 0 2.3 0a1.15 1.15 0 1 0 -2.3 0zM488.65 327.3a1.15 1.15 0 1 0 2.3 0a1.15 1.15 0 1 0 -2.3 0zM493.85 328a1.15 1.15 0 1 0 2.3 0a1.15 1.15 0 1 0 -2.3 0zM496.85 328a1.15 1.15 0 1 0 2.3 0a1.15 1.15 0 1 0 -2.3 0zM462.55 328.8a1.15 1.15 0 1 0 2.3 0a1.15 1.15 0 1 0 -2.3 0zM464.05 329.5a1.15 1.15 0 1 0 2.3 0a1.15 1.15 0 1 0 -2.3 0zM483.85 329.1a1.15 1.15 0 1 0 2.3 0a1.15 1.15 0 1 0 -2.3 0zM473.75 330.3a1.15 1.15 0 1 0 2.3 0a1.15 1.15 0 1 0 -2.3 0zM473.75 332.5a1.15 1.15 0 1 0 2.3 0a1.15 1.15 0 1 0 -2.3 0zM500.55 331a1.15 1.15 0 1 0 2.3 0a1.15 1.15 0 1 0 -2.3 0zM495.35 331.7a1.15 1.15 0 1 0 2.3 0a1.15 1.15 0 1 0 -2.3 0zM514.05 330.3a1.15 1.15 0 1 0 2.3 0a1.15 1.15 0 1 0 -2.3 0zM459.55 333.5a1.15 1.15 0 1 0 2.3 0a1.15 1.15 0 1 0 -2.3 0zM468.95 334.7a1.15 1.15 0 1 0 2.3 0a1.15 1.15 0 1 0 -2.3 0zM480.75 334a1.15 1.15 0 1 0 2.3 0a1.15 1.15 0 1 0 -2.3 0zM489.15 332.9a1.15 1.15 0 1 0 2.3 0a1.15 1.15 0 1 0 -2.3 0zM477.15 335.9a1.15 1.15 0 1 0 2.3 0a1.15 1.15 0 1 0 -2.3 0zM485.65 335.9a1.15 1.15 0 1 0 2.3 0a1.15 1.15 0 1 0 -2.3 0zM482.25 338a1.15 1.15 0 1 0 2.3 0a1.15 1.15 0 1 0 -2.3 0zM500.55 337a1.15 1.15 0 1 0 2.3 0a1.15 1.15 0 1 0 -2.3 0zM510.25 339.6a1.15 1.15 0 1 0 2.3 0a1.15 1.15 0 1 0 -2.3 0zM508.85 342.6a1.15 1.15 0 1 0 2.3 0a1.15 1.15 0 1 0 -2.3 0zM518.45 338.8a1.15 1.15 0 1 0 2.3 0a1.15 1.15 0 1 0 -2.3 0zM518.45 341.9a1.15 1.15 0 1 0 2.3 0a1.15 1.15 0 1 0 -2.3 0zM516.95 287.1a1.15 1.15 0 1 0 2.3 0a1.15 1.15 0 1 0 -2.3 0z" fill="#8a8a8a"/>
<path d="M338.93 319.85L430.48 315.95L430.42 314.65L338.87 318.55z" fill="#111111"/>
<path d="M432.21 314.04L519.51 325.64L519.69 324.36L432.39 312.76z" fill="#111111"/>
<path d="M315.8 231.8V352.3H528.1" fill="none" stroke="#3c3c3c" stroke-width="1.4" stroke-linejoin="round"/>
<path d="M311.8 345.75H315.8M311.8 318.9H315.8M311.8 292.05H315.8M311.8 265.2H315.8M311.8 238.35H315.8M322.4 352.3V356.5M355.64 352.3V356.5M388.88 352.3V356.5M405.5 352.3V356.5M430.43 352.3V356.5M455.36 352.3V356.5M488.6 352.3V356.5" stroke="#3c3c3c" stroke-width="1.1" fill="none"/>
<g transform="translate(308 345.75) rotate(-90)"><text x="-4.49" y="0" class="l">-5</text></g>
<g transform="translate(308 318.9) rotate(-90)"><text x="-2.81" y="0" class="l">0</text></g>
<g transform="translate(308 292.05) rotate(-90)"><text x="-2.81" y="0" class="l">5</text></g>
<g transform="translate(308 265.2) rotate(-90)"><text x="-5.62" y="0" class="l">10</text><rect x="-5.42" y="-1.48" width="2.1" height="3.55" fill="#fff"/><rect x="-1.84" y="-1.48" width="1.78" height="3.55" fill="#fff"/></g>
<g transform="translate(308 238.35) rotate(-90)"><text x="-5.62" y="0" class="l">15</text><rect x="-5.42" y="-1.48" width="2.1" height="3.55" fill="#fff"/><rect x="-1.84" y="-1.48" width="1.78" height="3.55" fill="#fff"/></g>
<g transform="translate(322.4 368.3)"><text x="-4.21" y="0" class="l">.8</text></g>
<g transform="translate(355.64 368.3)"><text x="-2.81" y="0" class="l">1</text><rect x="-2.61" y="-1.48" width="2.1" height="3.55" fill="#fff"/><rect x="0.96" y="-1.48" width="1.78" height="3.55" fill="#fff"/></g>
<g transform="translate(388.88 368.3)"><text x="-7.02" y="0" class="l">1.2</text><rect x="-6.82" y="-1.48" width="2.1" height="3.55" fill="#fff"/><rect x="-3.25" y="-1.48" width="1.78" height="3.55" fill="#fff"/></g>
<g transform="translate(405.5 368.3)"><text x="-7.02" y="0" class="l">1.3</text><rect x="-6.82" y="-1.48" width="2.1" height="3.55" fill="#fff"/><rect x="-3.25" y="-1.48" width="1.78" height="3.55" fill="#fff"/></g>
<g transform="translate(430.43 368.3)"><text x="-9.83" y="0" class="l">1.45</text><rect x="-9.63" y="-1.48" width="2.1" height="3.55" fill="#fff"/><rect x="-6.06" y="-1.48" width="1.78" height="3.55" fill="#fff"/></g>
<g transform="translate(455.36 368.3)"><text x="-7.02" y="0" class="l">1.6</text><rect x="-6.82" y="-1.48" width="2.1" height="3.55" fill="#fff"/><rect x="-3.25" y="-1.48" width="1.78" height="3.55" fill="#fff"/></g>
<g transform="translate(488.6 368.3)"><text x="-7.02" y="0" class="l">1.8</text><rect x="-6.82" y="-1.48" width="2.1" height="3.55" fill="#fff"/><rect x="-3.25" y="-1.48" width="1.78" height="3.55" fill="#fff"/></g>
<text x="421.95" y="378.4" text-anchor="middle" class="l">Poverty-income Ratio</text>
<text transform="translate(295.9 292.05) rotate(-90)" text-anchor="middle" class="l">MetS Z-score</text>
<text x="421.95" y="226.5" text-anchor="middle" class="t">MetS Z-score</text>
</svg>
</body></html>
